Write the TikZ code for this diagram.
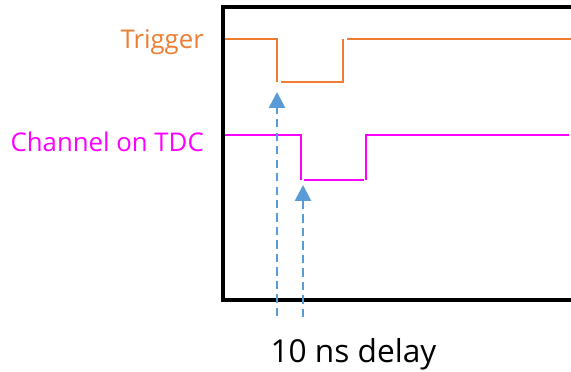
\documentclass[tikz,border=0pt]{standalone}
\usepackage{fontspec}
\setmainfont{Open Sans}
\usetikzlibrary{arrows.meta}
\definecolor{trigorange}{RGB}{237,125,49}
\definecolor{tdcmagenta}{RGB}{255,0,255}
\definecolor{delayblue}{RGB}{91,155,213}
\begin{document}
\begin{tikzpicture}[x=0.03cm,y=-0.03cm,
  frame/.style={line width=2.6pt,black},
  trigline/.style={line width=1.9pt,trigorange},
  tdcline/.style={line width=1.9pt,tdcmagenta},
  delayarrow/.style={line width=2.3pt,delayblue,dash pattern=on 7pt off 4.5pt,
    -{Triangle[length=13.5pt,width=13.5pt]}},
  label/.style={inner sep=0pt,font=\fontsize{22pt}{26pt}\selectfont}]
\useasboundingbox (0,0) rectangle (571,371);
% frame, open on the right
\draw[frame] (571,7)--(223,7)--(223,300)--(571,300);
% trigger
\draw[trigline] (225,39)--(277,39)--(277,82);
\draw[trigline] (281,82)--(343,82)--(343,39);
\draw[trigline] (347,39)--(571,39);
% channel on TDC
\draw[tdcline] (225,135)--(301,135)--(301,180);
\draw[tdcline] (304,180)--(364,180);
\draw[tdcline] (366,180)--(366,135)--(569,135);
% delay arrows
\coordinate (trigtail) at (277,316);
\coordinate (trigtip) at (277,92);
\coordinate (chantail) at (303,317);
\coordinate (chantip) at (303,185);
\draw[delayarrow] (trigtail)--(trigtip);
\draw[delayarrow] (chantail)--(chantip);
\node[label,anchor=base east,text=trigorange] (triglabel) at (204,49) {Trigger};
\node[label,anchor=base east,text=tdcmagenta] (chanlabel) at (204,151) {Channel on TDC};
\node[inner sep=0pt,anchor=base,font=\fontsize{27pt}{32pt}\selectfont] (delaylabel) at (353.5,362) {10 ns delay};
\end{tikzpicture}
\end{document}
